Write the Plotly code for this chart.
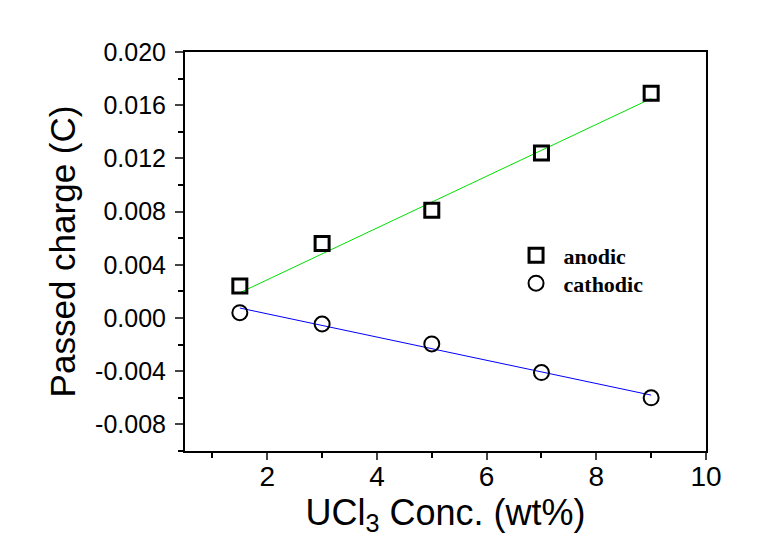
import plotly.graph_objects as go

conc = [1.5, 3, 5, 7, 9]
anodic = [0.0024, 0.0056, 0.0081, 0.0124, 0.0169]
cathodic = [0.0004, -0.00045, -0.00195, -0.0041, -0.0060]

fit_x = [1.5, 9]
anodic_fit = [0.0019, 0.0165]
cathodic_fit = [0.00075, -0.0058]

x_ticks = [2, 4, 6, 8, 10]
y_ticks = [-0.008, -0.004, 0.000, 0.004, 0.008, 0.012, 0.016, 0.020]
y_tick_labels = ["-0.008", "-0.004", "0.000", "0.004", "0.008", "0.012", "0.016", "0.020"]

fig = go.Figure()
fig.add_trace(go.Scatter(x=fit_x, y=anodic_fit, mode="lines",
                         line=dict(color="#00e000", width=1), showlegend=False))
fig.add_trace(go.Scatter(x=fit_x, y=cathodic_fit, mode="lines",
                         line=dict(color="#0000ff", width=1), showlegend=False))
fig.add_trace(go.Scatter(x=conc, y=anodic, mode="markers", name="anodic",
                         marker=dict(symbol="square-open", size=14, color="black",
                                     line=dict(width=3, color="black")),
                         legend="legend"))
fig.add_trace(go.Scatter(x=conc, y=cathodic, mode="markers", name="cathodic",
                         marker=dict(symbol="circle-open", size=15, color="black",
                                     line=dict(width=2, color="black")),
                         legend="legend2"))

legend_font = dict(family="Liberation Serif", size=22, color="black", weight="bold")
common_legend = dict(font=legend_font, bgcolor="rgba(0,0,0,0)", borderwidth=0,
                     xanchor="left", yanchor="middle", itemwidth=45)

fig.update_layout(
    width=754, height=531,
    margin=dict(l=177, r=56, t=44, b=88),
    paper_bgcolor="white", plot_bgcolor="white",
    font=dict(family="Liberation Sans", color="black"),
    legend=dict(x=0.621, y=0.49, **common_legend),
    legend2=dict(x=0.621, y=0.42, **common_legend),
    xaxis=dict(
        range=[0.5, 10], tickvals=x_ticks, ticks="outside", ticklen=7, tickwidth=2,
        showline=True, linewidth=2, linecolor="black", mirror=True, showgrid=False,
        zeroline=False, tickfont=dict(size=28, family="Liberation Sans"),
        ticklabelstandoff=-8,
        minor=dict(dtick=1, tick0=1, ticks="outside", ticklen=5, tickwidth=2, tickcolor="black"),
        title=dict(text="UCl<sub>3</sub> Conc. (wt%)", font=dict(size=36, family="Liberation Sans"),
                   standoff=0),
    ),
    yaxis=dict(
        range=[-0.010, 0.020], tickvals=y_ticks, ticktext=y_tick_labels, ticks="outside",
        ticklen=8, tickwidth=2, showline=True, linewidth=2, linecolor="black", mirror=True,
        showgrid=False, zeroline=False, tickfont=dict(size=25, family="Liberation Sans"),
        ticklabelstandoff=4,
        minor=dict(dtick=0.002, tick0=0, ticks="outside", ticklen=5, tickwidth=2, tickcolor="black"),
        title=dict(text="Passed charge (C)", font=dict(size=35, family="Liberation Sans"),
                   standoff=9),
    ),
)

fig.write_html("out.html")
